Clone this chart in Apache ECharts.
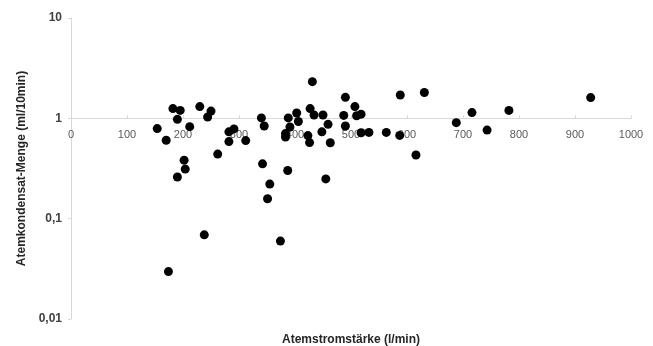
<!DOCTYPE html>
<html>
<head>
<meta charset="utf-8">
<script src="https://cdn.jsdelivr.net/npm/echarts@6/dist/echarts.min.js"></script>
<style>html,body{margin:0;padding:0;background:#fff}#c{width:653px;height:346px}</style>
</head>
<body>
<div id="c"></div>
<script>
// Data (x: Atemstromstärke l/min, y: Atemkondensat-Menge ml/10min)
const flowX = [154,170,182,195,190,212,230,250,244,262,202,204,190,238,174,
  282,291,282,312,340,345,342,355,351,374,387,388,391,383,383,
  403,406,431,427,434,450,459,448,423,426,463,455,
  490,487,490,507,510,518,518,532,563,588,587,631,616,688,716,743,782,928];
const condY = [0.79,0.605,1.25,1.20,0.977,0.826,1.31,1.18,1.03,0.44,0.383,0.312,0.26,0.069,0.0297,
  0.733,0.785,0.586,0.60,1.01,0.838,0.352,0.221,0.158,0.0598,0.302,1.01,0.819,0.705,0.65,
  1.13,0.929,2.32,1.25,1.08,1.08,0.871,0.733,0.673,0.573,0.571,0.249,
  1.62,1.07,0.838,1.31,1.06,1.10,0.719,0.724,0.724,1.71,0.676,1.81,0.431,0.906,1.14,0.764,1.20,1.61];
const xTitle = 'Atemstromstärke (l/min)';
const yTitle = 'Atemkondensat-Menge (ml/10min)';

const points = flowX.map((x, i) => [x, condY[i]]);
const chart = echarts.init(document.getElementById('c'), null, {renderer: 'canvas'});
const gridTop = 18, gridBottom = 27, H = 346;
const gridH = H - gridTop - gridBottom;
chart.setOption({
  animation: false,
  grid: {left: 71, right: 22, top: gridTop, bottom: gridBottom, containLabel: false},
  xAxis: {
    type: 'value', min: 0, max: 1000, interval: 100,
    position: 'bottom',
    offset: -gridH * 2 / 3,
    axisLine: {show: true, onZero: false, lineStyle: {color: '#d9d9d9', width: 1}},
    axisTick: {show: true, length: 3, inside: true, lineStyle: {color: '#d9d9d9'}},
    splitLine: {show: false},
    axisLabel: {color: '#595959', fontSize: 11, fontFamily: 'Liberation Sans, Arial, sans-serif', margin: 11,
      formatter: v => String(v)}
  },
  yAxis: {
    type: 'log', logBase: 10, min: 0.01, max: 10,
    axisLine: {show: true, lineStyle: {color: '#d9d9d9', width: 1}},
    axisTick: {show: true, length: 3, lineStyle: {color: '#d9d9d9'}},
    splitLine: {show: false},
    axisLabel: {color: '#404040', fontSize: 12, fontWeight: 'bold', fontFamily: 'Liberation Sans, Arial, sans-serif', margin: 9,
      formatter: v => String(v).replace('.', ',')},
    name: yTitle, nameLocation: 'middle', nameGap: 37, nameRotate: 90,
    nameTextStyle: {color: '#262626', fontSize: 12, fontWeight: 'bold', fontFamily: 'Liberation Sans, Arial, sans-serif'}
  },
  graphic: [{
    type: 'text', x: 351, y: 334,
    style: {text: xTitle, fill: '#262626', font: 'bold 12px "Liberation Sans", Arial, sans-serif', align: 'center'}
  }],
  series: [{
    type: 'scatter', data: points, symbol: 'circle', symbolSize: 9,
    itemStyle: {color: '#000', opacity: 1}
  }]
});
</script>
</body>
</html>
